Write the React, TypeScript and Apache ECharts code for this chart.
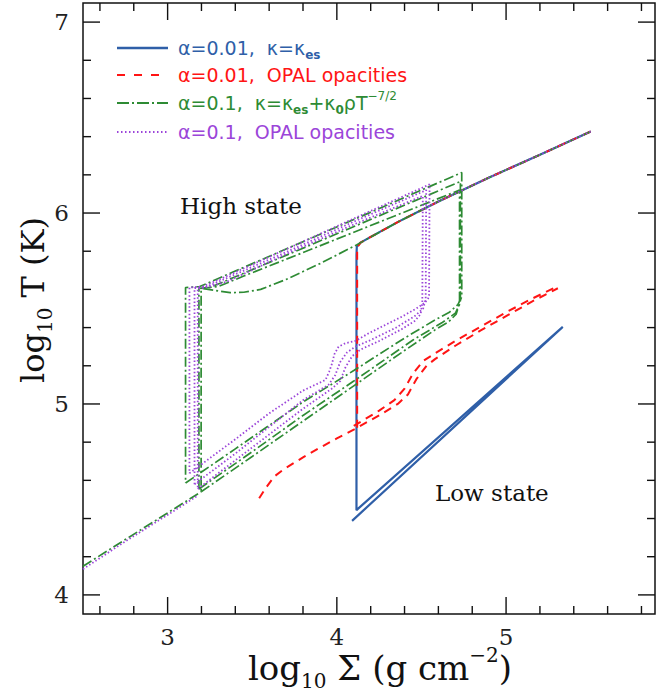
import React, { useEffect, useRef } from "react";
import * as echarts from "echarts";

const X_MIN = 2.5;
const X_MAX = 5.88;
const Y_MIN = 3.9;
const Y_MAX = 7.1;

const xMajorTicks = [3, 4, 5];
const xMinorTicks = [2.6, 2.8, 3.2, 3.4, 3.6, 3.8, 4.2, 4.4, 4.6, 4.8, 5.2, 5.4, 5.6, 5.8];
const yMajorTicks = [4, 5, 6, 7];
const yMinorTicks = [4.2, 4.4, 4.6, 4.8, 5.2, 5.4, 5.6, 5.8, 6.2, 6.4, 6.6, 6.8];

// alpha = 0.01, kappa = kappa_es
const blueCycle = [
  [5.5, 6.427], [5.2, 6.305], [4.894, 6.184], [4.6, 6.06], [4.365, 5.955], [4.2, 5.875],
  [4.14, 5.845], [4.118, 5.825], [4.116, 5.78], [4.116, 4.444], [5.335, 5.404], [4.09, 4.388],
];

// alpha = 0.01, OPAL
const redUpper = [
  [5.5, 6.427], [5.2, 6.305], [4.894, 6.184], [4.6, 6.06], [4.365, 5.955], [4.2, 5.875],
  [4.14, 5.845], [4.12, 5.82], [4.12, 4.864],
];
const redLowerA = [
  [3.541, 4.506], [3.58, 4.56], [3.63, 4.62], [3.69, 4.66], [3.8, 4.72], [3.894, 4.768],
  [4.0, 4.82], [4.1, 4.866], [4.25, 4.94], [4.36, 5.0], [4.42, 5.05], [4.47, 5.13],
  [4.53, 5.2], [4.58, 5.235], [4.7, 5.305], [4.85, 5.385], [5.0, 5.46], [5.15, 5.535], [5.306, 5.606],
];
const redLowerB = [
  [4.1, 4.885], [4.25, 4.965], [4.34, 5.02], [4.4, 5.08], [4.45, 5.16], [4.51, 5.225],
  [4.58, 5.265], [4.7, 5.33], [4.85, 5.405], [5.0, 5.48], [5.15, 5.55], [5.29, 5.61],
];

// alpha = 0.1, kappa = kappa_es + kappa_0 rho T^-7/2
const greenTail = [[2.5, 4.15], [2.75, 4.29], [3.01, 4.435], [3.198, 4.54]];
const greenLoopOuter = [
  [3.106, 4.586], [3.4, 4.765], [3.8, 5.01], [4.1, 5.175], [4.4, 5.345], [4.58, 5.44],
  [4.665, 5.48], [4.715, 5.52], [4.738, 5.56], [4.738, 6.212], [4.3, 6.043], [3.8, 5.85],
  [3.4, 5.696], [3.19, 5.615], [3.106, 5.61], [3.106, 4.586],
];
const greenLoopMid = [
  [3.185, 4.555], [3.5, 4.75], [3.8, 4.94], [4.1, 5.12], [4.45, 5.335], [4.62, 5.425],
  [4.7, 5.475], [4.73, 5.53], [4.73, 6.165], [4.3, 6.004], [3.8, 5.816], [3.4, 5.666],
  [3.25, 5.61], [3.185, 5.605], [3.185, 4.555],
];
const greenLoopInner = [
  [3.198, 4.54], [3.5, 4.725], [3.8, 4.91], [4.1, 5.095], [4.4, 5.28], [4.58, 5.388],
  [4.66, 5.43], [4.705, 5.47], [4.725, 5.53], [4.725, 6.12], [4.3, 5.97], [3.8, 5.793],
  [3.45, 5.67], [3.3, 5.615], [3.198, 5.605], [3.198, 4.54],
];
const greenSCurve = [
  [5.5, 6.427], [5.2, 6.305], [4.894, 6.184], [4.6, 6.06], [4.365, 5.955], [4.116, 5.833],
  [3.9, 5.735], [3.7, 5.652], [3.55, 5.6], [3.45, 5.585], [3.37, 5.583], [3.3, 5.592], [3.198, 5.605],
];

// alpha = 0.1, OPAL
const purpleTail = [[2.5, 4.135], [2.75, 4.28], [3.01, 4.425], [3.178, 4.52]];
const purpleLoopOuter = [
  [3.129, 4.637], [3.208, 4.689], [3.4, 4.815], [3.6, 4.951], [3.8, 5.07], [3.933, 5.126],
  [3.955, 5.17], [3.972, 5.213], [3.985, 5.26], [4.01, 5.3], [4.05, 5.318], [4.11, 5.33],
  [4.188, 5.37], [4.3, 5.42], [4.384, 5.457], [4.47, 5.5], [4.52, 5.53], [4.545, 5.56],
  [4.548, 6.15], [4.1, 5.971], [3.7, 5.81], [3.3, 5.65], [3.208, 5.615], [3.129, 5.61], [3.129, 4.637],
];
const purpleLoopMid = [
  [3.159, 4.58], [3.4, 4.74], [3.6, 4.88], [3.8, 5.02], [3.95, 5.1], [3.99, 5.15], [4.02, 5.22],
  [4.06, 5.27], [4.11, 5.3], [4.2, 5.335], [4.35, 5.4], [4.46, 5.46], [4.51, 5.5], [4.525, 5.55],
  [4.528, 6.12], [4.1, 5.955], [3.7, 5.795], [3.3, 5.64], [3.22, 5.61], [3.159, 5.607], [3.159, 4.58],
];
const purpleLoopInner = [
  [3.178, 4.555], [3.4, 4.705], [3.6, 4.84], [3.8, 4.975], [3.97, 5.08], [4.02, 5.12], [4.05, 5.19],
  [4.09, 5.25], [4.14, 5.285], [4.25, 5.33], [4.38, 5.39], [4.46, 5.435], [4.495, 5.47], [4.505, 5.53],
  [4.508, 6.09], [4.1, 5.94], [3.7, 5.785], [3.35, 5.64], [3.25, 5.615], [3.178, 5.605], [3.178, 4.555],
];
const purpleSCurve = [[5.5, 6.427], [5.2, 6.305], [4.894, 6.184], [4.6, 6.06], [4.5, 6.016]];

const BLUE = "#2f5fa8";
const RED = "#ff1414";
const GREEN = "#2e8b34";
const PURPLE = "#9b45d9";
const INK = "#111111";

const legendRows = [
  { text: "α=0.01,  κ=κ{s|es}", color: BLUE, dash: "solid" },
  { text: "α=0.01,  OPAL opacities", color: RED, dash: [8, 9] },
  { text: "α=0.1,  κ=κ{s|es}+κ{s|0}ρT{p|−7/2}", color: GREEN, dash: [12, 3, 2, 3] },
  { text: "α=0.1,  OPAL opacities", color: PURPLE, dash: [1.5, 2.5] },
];

const BLUE_DASH = "solid";
const RED_DASH = [8, 6];
const GREEN_DASH = [10, 3, 2, 3];
const PURPLE_DASH = [1.5, 2.2];

function lineSeries(name: string, data: number[][], color: string, width: number, type: any, z: number) {
  return {
    type: "line",
    name,
    data,
    symbol: "none",
    showSymbol: false,
    silent: true,
    z,
    clip: true,
    lineStyle: { color, width, type, cap: "butt" },
  };
}

function tickSeries(values: number[], major: boolean, dir: "x" | "y") {
  return {
    type: "custom",
    coordinateSystem: "cartesian2d",
    silent: true,
    z: 10,
    data: values.map((v) => (dir === "x" ? [v, Y_MIN] : [X_MIN, v])),
    encode: { x: 0, y: 1 },
    renderItem: (params: any, api: any) => {
      const cs = params.coordSys;
      const len = major ? 17 : 8;
      const p = api.coord([api.value(0), api.value(1)]);
      const style = { stroke: INK, lineWidth: 1.4 };
      if (dir === "x") {
        const x = p[0];
        const yb = cs.y + cs.height;
        const yt = cs.y;
        return {
          type: "group",
          children: [
            { type: "line", shape: { x1: x, y1: yb, x2: x, y2: yb - len }, style },
            { type: "line", shape: { x1: x, y1: yt, x2: x, y2: yt + len }, style },
          ],
        };
      }
      const y = p[1];
      const xl = cs.x;
      const xr = cs.x + cs.width;
      return {
        type: "group",
        children: [
          { type: "line", shape: { x1: xl, y1: y, x2: xl + len, y2: y }, style },
          { type: "line", shape: { x1: xr, y1: y, x2: xr - len, y2: y }, style },
        ],
      };
    },
  };
}

const intLabel = (v: number) => (Math.abs(v - Math.round(v)) < 1e-6 ? String(Math.round(v)) : "");

export default function App() {
  const ref = useRef<HTMLDivElement>(null);
  useEffect(() => {
    if (!ref.current) return;
    const chart = echarts.init(ref.current, undefined, { renderer: "svg" });

    const legendGraphics: any[] = [];
    const rowsY = [48, 75, 103, 132];
    legendRows.forEach((r, i) => {
      legendGraphics.push({
        type: "line",
        shape: { x1: 117, y1: rowsY[i], x2: 168, y2: rowsY[i] },
        style: { stroke: r.color, lineWidth: i === 0 ? 2.6 : 2, lineDash: r.dash === "solid" ? null : r.dash },
        z: 100,
      });
      legendGraphics.push({
        type: "text",
        x: 178,
        y: rowsY[i],
        z: 100,
        style: {
          text: r.text,
          fill: r.color,
          fontSize: 19,
          fontFamily: "DejaVu Sans",
          align: "left",
          verticalAlign: "middle",
          textAlign: "left",
          textVerticalAlign: "middle",
          lineHeight: 26,
          rich: {
            s: { fontSize: 12, fontWeight: "bold", fontFamily: "DejaVu Sans", fill: r.color, color: r.color, verticalAlign: "bottom", lineHeight: 12 },
            p: { fontSize: 12, fontFamily: "DejaVu Sans", fill: r.color, color: r.color, verticalAlign: "top", lineHeight: 12 },
          },
        },
      });
    });

    const serif = "DejaVu Serif";
    const titleRich = {
      s: { fontSize: 20, fontFamily: serif, fill: INK, color: INK, verticalAlign: "bottom", lineHeight: 21 },
      p: { fontSize: 20, fontFamily: serif, fill: INK, color: INK, verticalAlign: "top", lineHeight: 21 },
    };

    const option: any = {
      animation: false,
      backgroundColor: "#ffffff",
      grid: {
        left: 83,
        top: 3,
        width: 574,
        height: 611,
        show: true,
        borderColor: INK,
        borderWidth: 1.5,
        backgroundColor: "transparent",
        containLabel: false,
      },
      xAxis: {
        type: "value",
        min: X_MIN,
        max: X_MAX,
        interval: 0.5,
        axisLine: { show: false },
        axisTick: { show: false },
        splitLine: { show: false },
        axisLabel: {
          interval: 0,
          formatter: intLabel,
          color: "#222",
          fontFamily: serif,
          fontSize: 23,
          margin: 11,
          showMinLabel: true,
          showMaxLabel: true,
        },
      },
      yAxis: {
        type: "value",
        min: Y_MIN,
        max: Y_MAX,
        interval: 0.1,
        axisLine: { show: false },
        axisTick: { show: false },
        splitLine: { show: false },
        axisLabel: {
          interval: 0,
          formatter: intLabel,
          color: "#222",
          fontFamily: serif,
          fontSize: 23,
          margin: 14,
        },
      },
      series: [
        lineSeries("blue", blueCycle, BLUE, 2.2, BLUE_DASH, 2),
        lineSeries("redUpper", redUpper, RED, 2, RED_DASH, 3),
        lineSeries("redLowerA", redLowerA, RED, 2, RED_DASH, 3),
        lineSeries("redLowerB", redLowerB, RED, 2, RED_DASH, 3),
        lineSeries("greenTail", greenTail, GREEN, 1.7, GREEN_DASH, 4),
        lineSeries("greenOuter", greenLoopOuter, GREEN, 1.7, GREEN_DASH, 4),
        lineSeries("greenMid", greenLoopMid, GREEN, 1.7, GREEN_DASH, 4),
        lineSeries("greenInner", greenLoopInner, GREEN, 1.7, GREEN_DASH, 4),
        lineSeries("greenS", greenSCurve, GREEN, 1.7, GREEN_DASH, 4),
        lineSeries("purpleTail", purpleTail, PURPLE, 1.8, PURPLE_DASH, 5),
        lineSeries("purpleOuter", purpleLoopOuter, PURPLE, 1.8, PURPLE_DASH, 5),
        lineSeries("purpleMid", purpleLoopMid, PURPLE, 1.8, PURPLE_DASH, 5),
        lineSeries("purpleInner", purpleLoopInner, PURPLE, 1.8, PURPLE_DASH, 5),
        lineSeries("purpleS", purpleSCurve, PURPLE, 1.8, PURPLE_DASH, 5),
        tickSeries(xMajorTicks, true, "x"),
        tickSeries(xMinorTicks, false, "x"),
        tickSeries(yMajorTicks, true, "y"),
        tickSeries(yMinorTicks, false, "y"),
      ],
      graphic: [
        ...legendGraphics,
        {
          type: "text",
          x: 180,
          y: 206,
          style: { text: "High state", fill: INK, fontSize: 23, fontFamily: serif, align: "left", verticalAlign: "middle", textAlign: "left", textVerticalAlign: "middle" },
        },
        {
          type: "text",
          x: 435,
          y: 493,
          style: { text: "Low state", fill: INK, fontSize: 23, fontFamily: serif, align: "left", verticalAlign: "middle", textAlign: "left", textVerticalAlign: "middle" },
        },
        {
          type: "text",
          x: 380,
          y: 668,
          style: {
            text: "log{s|10} Σ (g cm{p|−2})",
            fill: INK,
            fontSize: 34,
            fontFamily: serif,
            align: "center",
            verticalAlign: "middle",
            textAlign: "center",
            textVerticalAlign: "middle",
            lineHeight: 46,
            rich: titleRich,
          },
        },
        {
          type: "text",
          x: 33,
          y: 300,
          rotation: Math.PI / 2,
          style: {
            text: "log{s|10} T (K)",
            fill: INK,
            fontSize: 32,
            fontFamily: serif,
            align: "center",
            verticalAlign: "middle",
            textAlign: "center",
            textVerticalAlign: "middle",
            lineHeight: 44,
            rich: titleRich,
          },
        },
      ],
    };
    chart.setOption(option);
    return () => chart.dispose();
  }, []);
  return <div ref={ref} style={{ position: "absolute", left: 0, top: 0, width: 658, height: 696, background: "#fff" }} />;
}
